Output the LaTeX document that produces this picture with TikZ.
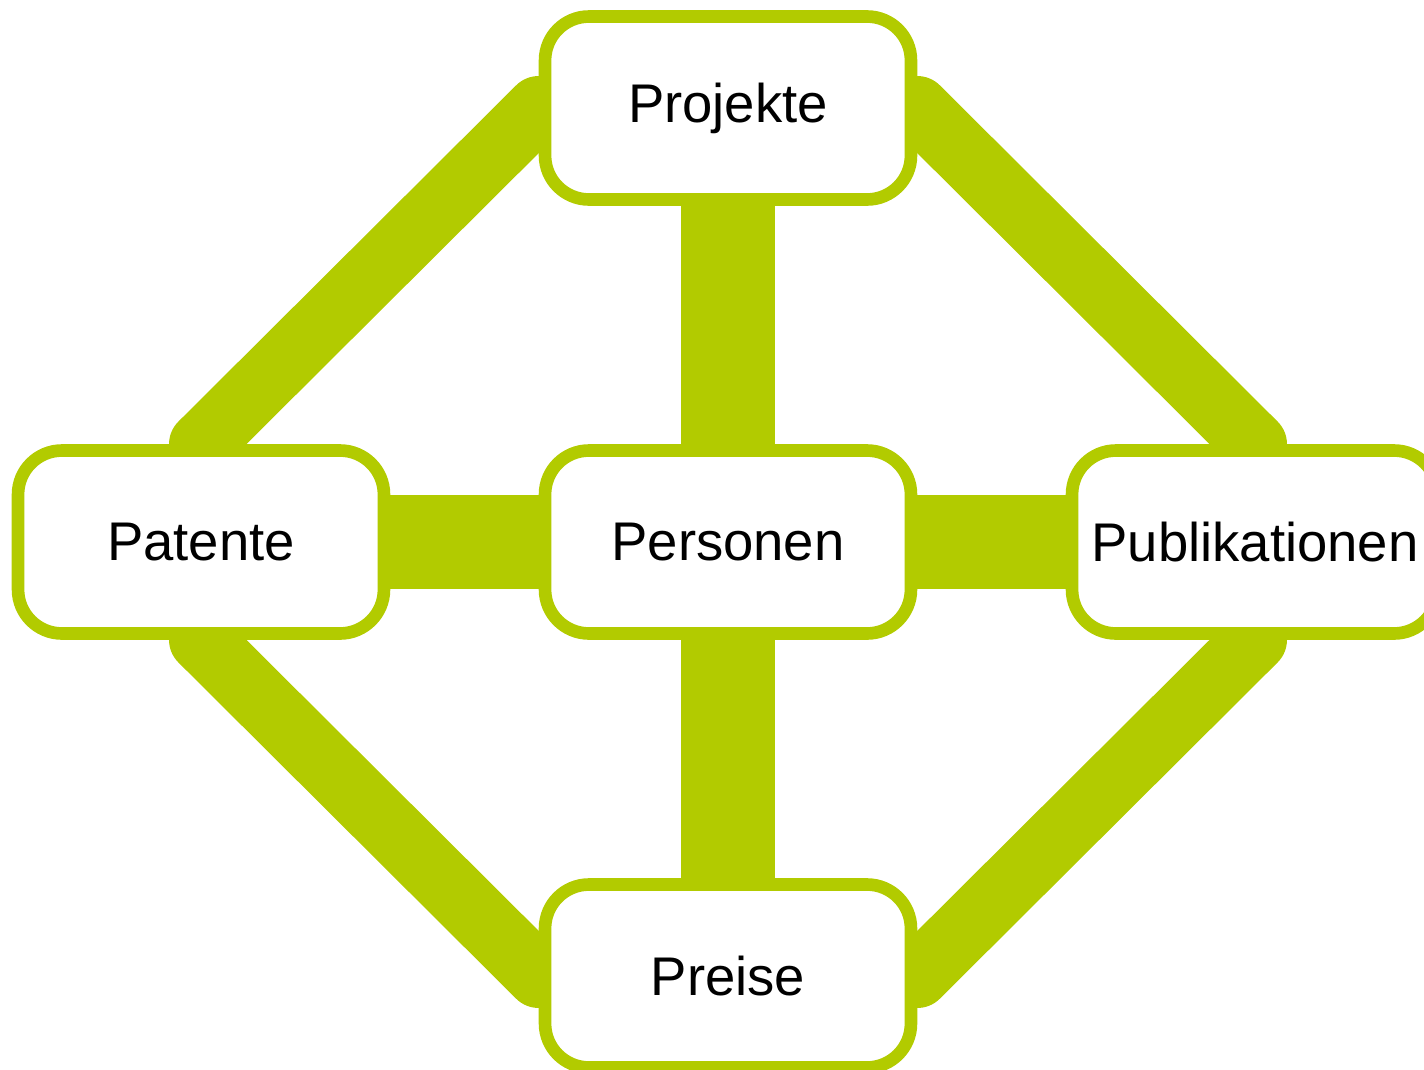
\documentclass[tikz,border=0pt]{standalone}
\usepackage{fontspec}
\setmainfont{Liberation Sans}
\usepackage{tikz}
\usetikzlibrary{backgrounds}
\definecolor{gruen}{RGB}{178,203,0}

\begin{document}
\begin{tikzpicture}[x=0.02cm,y=-0.02cm,
    box/.style={draw=gruen, fill=white, line width=7.2pt, rounded corners=25pt,
        minimum width=7.32cm, minimum height=3.66cm,
        font=\fontsize{31}{37}\selectfont},
    gerade/.style={draw=gruen, line width=53pt},
    schraeg/.style={draw=gruen, line width=36.4pt, line cap=round}]
            \useasboundingbox (0,0) rectangle (1424,1069);

            \node[box] (proj) at (728,108) {Projekte};
            \node[box] (pers) at (728,542) {Personen};
            \node[box] (pat) at (201,542) {Patente};
            \node[box] (pub) at (1255,542) {Publikationen};
            \node[box] (preis) at (728,976) {Preise};

            \begin{scope}[on background layer]
            % Mitte
            \draw[gerade] (proj) -- (pers);
            \draw[gerade] (pers) -- (preis);
            \draw[gerade] (pat) -- (pers);
            \draw[gerade] (pers) -- (pub);
            % Raute
            \draw[schraeg] (proj.west) -- (pat.north);
            \draw[schraeg] (proj.east) -- (pub.north);
            \draw[schraeg] (pat.south) -- (preis.west);
            \draw[schraeg] (preis.east) -- (pub.south);
            \end{scope}
        \end{tikzpicture}
\end{document}
